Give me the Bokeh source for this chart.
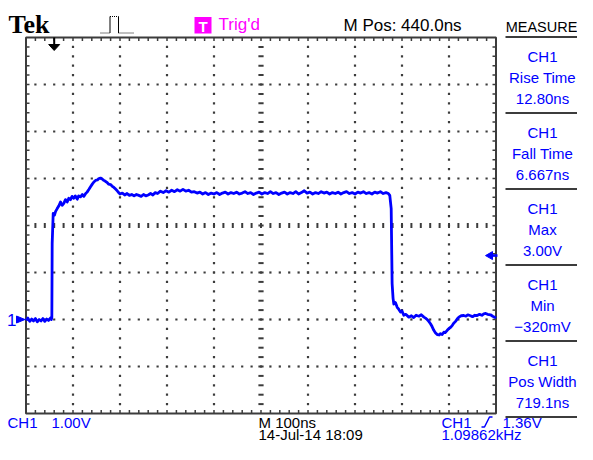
from bokeh.plotting import figure
from bokeh.models import Range1d
from bokeh.core.properties import value
from bokeh.embed import file_html
from bokeh.resources import INLINE

# ---------------- waveform (time in ns, CH1 in volts) ----------------
t_base = [-60, -56, -52, -48, -44, -40, -36, -32, -28, -24, -20, -16, -12, -8, -6]
v_base = [-0.02, 0.03, -0.04, 0.01, -0.03, 0.02, -0.05, 0.00, -0.03, 0.02, -0.04, 0.01, -0.02, 0.03, 0.00]

t_rise = [-5, -4.3, -2.1, 0.6, 3, 6.4, 10, 13.4, 17, 20.4, 24, 27.7, 31, 34.7, 38,
          41.7, 45, 49, 52, 56, 60, 63, 67, 70, 74, 77, 81, 84, 88, 92, 95, 98.5,
          102, 105.5, 109, 113, 116, 120, 123, 127, 130, 134, 137, 140]
v_rise = [0.05, 1.62, 2.26, 2.22, 2.30, 2.36, 2.42, 2.50, 2.43, 2.47, 2.55, 2.50, 2.58, 2.55, 2.62,
          2.58, 2.63, 2.56, 2.63, 2.61, 2.66, 2.62, 2.68, 2.71, 2.77, 2.82, 2.88, 2.92, 2.96, 2.97, 3.00, 3.01,
          2.99, 2.96, 2.94, 2.91, 2.88, 2.87, 2.84, 2.81, 2.78, 2.74, 2.70, 2.67]

t_top = [145, 150, 155, 160, 165, 170, 175, 180, 185, 190, 195, 200, 205, 210, 215, 220, 226, 232, 238, 244,
         250, 256, 262, 268, 274, 280, 286, 292, 298, 304, 310, 316, 322, 328, 334, 340, 346, 352, 358, 364,
         370, 376, 382, 388, 394, 400, 406, 412, 418, 424, 430, 436, 442, 448, 454, 460, 466, 472, 478, 484,
         490, 496, 502, 508, 514, 520, 526, 532, 538, 544, 550, 556, 562, 568, 574, 580, 586, 592, 598, 604,
         610, 616, 622, 628, 634, 640, 646, 652, 658, 664, 670, 676, 682, 688, 694, 700, 706, 711]
v_top = [2.69, 2.65, 2.68, 2.64, 2.66, 2.63, 2.66, 2.64, 2.62, 2.66, 2.63, 2.65, 2.68, 2.65, 2.70, 2.68, 2.73, 2.70, 2.74, 2.71,
         2.75, 2.72, 2.76, 2.73, 2.77, 2.73, 2.75, 2.71, 2.72, 2.69, 2.71, 2.67, 2.70, 2.66, 2.69, 2.67, 2.70, 2.66, 2.69, 2.71,
         2.67, 2.70, 2.68, 2.71, 2.67, 2.69, 2.72, 2.68, 2.70, 2.66, 2.69, 2.71, 2.67, 2.70, 2.68, 2.72, 2.68, 2.70, 2.66, 2.69,
         2.71, 2.67, 2.70, 2.68, 2.72, 2.67, 2.70, 2.74, 2.69, 2.71, 2.67, 2.70, 2.68, 2.72, 2.69, 2.71, 2.67, 2.70, 2.68, 2.71,
         2.67, 2.70, 2.72, 2.68, 2.70, 2.67, 2.71, 2.69, 2.72, 2.68, 2.70, 2.67, 2.71, 2.69, 2.72, 2.68, 2.70, 2.68]

t_fall = [714, 717, 719, 721, 722.6, 726, 729.8, 733, 736.8, 740, 743.8, 748, 754.5, 760, 765, 770, 776, 781, 786.6, 790,
          793.6, 797, 800.6, 804, 807.7, 811, 814.9, 819, 822, 825.5, 829, 832, 836.2, 840, 843, 846.8, 850, 854, 857.4, 861,
          866, 871.5, 876, 880, 885.7, 890, 895, 900, 905, 910, 914, 918, 922, 928.3, 933, 937, 940]
v_fall = [2.64, 2.36, 0.76, 0.45, 0.33, 0.36, 0.26, 0.22, 0.16, 0.18, 0.09, 0.11, 0.05, 0.08, 0.04, 0.09, 0.07, 0.10, 0.05, 0.03,
          0.00, -0.04, -0.09, -0.15, -0.23, -0.28, -0.32, -0.33, -0.30, -0.32, -0.27, -0.28, -0.23, -0.19, -0.17, -0.13, -0.08, -0.04, 0.01, 0.05,
          0.08, 0.085, 0.07, 0.10, 0.08, 0.06, 0.09, 0.085, 0.11, 0.09, 0.12, 0.13, 0.11, 0.10, 0.07, 0.05, 0.03]

time_ns = t_base + t_rise + t_top + t_fall
volts = v_base + v_rise + v_top + v_fall

# ---------------- scope settings ----------------
T_LEFT, T_RIGHT = -60.0, 940.0      # M 100ns/div, M Pos 440.0ns
V_BOTTOM, V_TOP = -2.0, 6.0         # CH1 1.00V/div, ground 2 div below centre
T_DIV, V_DIV = 100.0, 1.0
TRIGGER_T = 0.0
TRIGGER_LEVEL = 1.36

measure_channel = ["CH1", "CH1", "CH1", "CH1", "CH1"]
measure_names = ["Rise Time", "Fall Time", "Max", "Min", "Pos Width"]
measure_values = ["12.80ns", "6.667ns", "3.00V", "\u2212320mV", "719.1ns"]

# ---------------- layout helpers (screen pixels) ----------------
PX_NS = 0.47      # pixels per ns
PX_V = 47.0       # pixels per volt
W, H = 577, 444
def rx(px):
    return T_LEFT + (px - 25.5) / PX_NS
def ry(py):
    return (319.0 - py) / PX_V
def base(py, size):
    # baseline placement (compensates the renderer's text offset)
    return ry(py - 0.33 * size)

FONT = value("Liberation Sans")
FS, FS_PANEL, FS_FOOT = 17, 15, 15
BLUE = "#0000FF"
INK = "#000000"
MAGENTA = "#FF00FF"
GRAT = "#3c3c3c"

def px(s):
    return "%gpx" % s

p = figure(width=W, height=H, x_range=Range1d(rx(0), rx(W)), y_range=Range1d(ry(H), ry(0)),
           output_backend="svg", toolbar_location=None, tools="",
           x_axis_location=None, y_axis_location=None, min_border=0,
           outline_line_color=None, background_fill_color="white", border_fill_color="white")
p.xgrid.visible = False
p.ygrid.visible = False

# ---------------- graticule ----------------
sub_t = [T_LEFT + 20 * i for i in range(1, 50)]
sub_v = [round(V_BOTTOM + 0.2 * j, 3) for j in range(1, 40)]
grid_t = [T_LEFT + T_DIV * k for k in range(1, 10) if k != 5]
grid_v = [V_BOTTOM + V_DIV * k for k in range(1, 8) if k != 4]
c_t = T_LEFT + 5 * T_DIV
c_v = V_BOTTOM + 4 * V_DIV

dot_x = [t for t in grid_t for v in sub_v] + [t for v in grid_v for t in sub_t]
dot_y = [v for t in grid_t for v in sub_v] + [v for v in grid_v for t in sub_t]
p.scatter(dot_x, dot_y, marker="square", size=2.2, fill_color=GRAT, line_color=None)

dl = 2.6
p.segment(x0=sub_t, x1=sub_t, y0=[c_v - dl / PX_V] * len(sub_t), y1=[c_v + dl / PX_V] * len(sub_t),
          line_color=GRAT, line_width=2)
p.segment(x0=[c_t - dl / PX_NS] * len(sub_v), x1=[c_t + dl / PX_NS] * len(sub_v), y0=sub_v, y1=sub_v,
          line_color=GRAT, line_width=2)

tk = 3.5
p.segment(x0=sub_t, x1=sub_t, y0=[V_TOP] * len(sub_t), y1=[V_TOP - tk / PX_V] * len(sub_t), line_color=GRAT, line_width=1.5)
p.segment(x0=sub_t, x1=sub_t, y0=[V_BOTTOM] * len(sub_t), y1=[V_BOTTOM + tk / PX_V] * len(sub_t), line_color=GRAT, line_width=1.5)
p.segment(x0=[T_LEFT] * len(sub_v), x1=[T_LEFT + tk / PX_NS] * len(sub_v), y0=sub_v, y1=sub_v, line_color=GRAT, line_width=1.5)
p.segment(x0=[T_RIGHT] * len(sub_v), x1=[T_RIGHT - tk / PX_NS] * len(sub_v), y0=sub_v, y1=sub_v, line_color=GRAT, line_width=1.5)
p.quad(left=[T_LEFT], right=[T_RIGHT], bottom=[V_BOTTOM], top=[V_TOP], fill_color=None, line_color=GRAT, line_width=2)

# ---------------- waveform ----------------
p.line(time_ns, volts, line_color=BLUE, line_width=2.8, line_join="round")

# trigger position marker (top)
p.segment(x0=[TRIGGER_T], x1=[TRIGGER_T], y0=[V_TOP], y1=[V_TOP - 7 / PX_V], line_color=INK, line_width=2)
p.patch([TRIGGER_T - 5.5 / PX_NS, TRIGGER_T + 5.5 / PX_NS, TRIGGER_T],
        [V_TOP - 7 / PX_V, V_TOP - 7 / PX_V, V_TOP - 13 / PX_V], fill_color=INK, line_color=INK, line_width=1)

# trigger level marker (right)
p.patch([T_RIGHT - 10.5 / PX_NS, T_RIGHT - 3.5 / PX_NS, T_RIGHT - 3.5 / PX_NS],
        [TRIGGER_LEVEL, TRIGGER_LEVEL + 4 / PX_V, TRIGGER_LEVEL - 4 / PX_V], fill_color=BLUE, line_color=BLUE, line_width=1)
p.segment(x0=[T_RIGHT - 4 / PX_NS], x1=[T_RIGHT + 1.5 / PX_NS], y0=[TRIGGER_LEVEL], y1=[TRIGGER_LEVEL],
          line_color=BLUE, line_width=2.5)

# ground marker (left)
p.text(x=[rx(6.5)], y=[base(325.5, FS)], text=["1"], text_font=FONT, text_font_size=px(FS), text_color=BLUE,
       text_baseline="alphabetic", text_align="left")
p.patch([rx(16), rx(24.5), rx(16)], [3.5 / PX_V, 0, -3.5 / PX_V], fill_color=BLUE, line_color=BLUE, line_width=1)

# ---------------- header ----------------
p.text(x=[rx(8)], y=[base(33, 26)], text=["Tek"], text_font=value("Liberation Serif"), text_font_style="bold",
       text_font_size=px(26), text_color=INK, text_baseline="alphabetic", text_align="left")
p.multi_line([[rx(100), rx(109.5)], [rx(109.5), rx(118)], [rx(118), rx(133)]],
             [[ry(32.5), ry(32.5)], [ry(16), ry(16)], [ry(32.5), ry(32.5)]],
             line_color=INK, line_width=1, line_dash="1 1")
p.multi_line([[rx(109.5), rx(109.5)], [rx(118), rx(118)]], [[ry(32.5), ry(16)], [ry(16), ry(32.5)]],
             line_color=INK, line_width=1)
p.quad(left=[rx(194)], right=[rx(211)], top=[ry(16.5)], bottom=[ry(33)], fill_color=MAGENTA, line_color=None)
p.text(x=[rx(202.5)], y=[base(30.5, 15)], text=["T"], text_font=FONT, text_font_style="bold",
       text_font_size=px(15), text_color="white", text_baseline="alphabetic", text_align="center")
p.text(x=[rx(218)], y=[base(30, FS)], text=["Trig'd"], text_font=FONT, text_font_size=px(FS), text_color=MAGENTA,
       text_baseline="alphabetic", text_align="left")
p.text(x=[rx(343)], y=[base(31, FS)], text=["M Pos: 440.0ns"], text_font=FONT, text_font_size=px(FS), text_color=INK,
       text_baseline="alphabetic", text_align="left")
p.text(x=[rx(541)], y=[base(31, 14.5)], text=["MEASURE"], text_font=FONT, text_font_size=px(14.5), text_color=INK,
       text_baseline="alphabetic", text_align="center")

# ---------------- measurement panel ----------------
panel_top = [36.5 + 76 * k for k in range(5)]
sep_y = [ry(y) for y in panel_top + [416.5]]
p.segment(x0=[rx(505)] * len(sep_y), x1=[rx(W)] * len(sep_y), y0=sep_y, y1=sep_y, line_color=GRAT, line_width=2)
row_x = [rx(542)] * len(measure_names)
p.text(x=row_x, y=[base(y + 24, FS_PANEL) for y in panel_top], text=measure_channel, text_font=FONT,
       text_font_size=px(FS_PANEL), text_color=BLUE, text_baseline="alphabetic", text_align="center")
p.text(x=row_x, y=[base(y + 45.5, FS_PANEL) for y in panel_top], text=measure_names, text_font=FONT,
       text_font_size=px(FS_PANEL), text_color=BLUE, text_baseline="alphabetic", text_align="center")
p.text(x=row_x, y=[base(y + 66, FS_PANEL) for y in panel_top], text=measure_values, text_font=FONT,
       text_font_size=px(FS_PANEL), text_color=BLUE, text_baseline="alphabetic", text_align="center")

# ---------------- footer ----------------
ROW1, ROW2 = 426.5, 438.5
p.text(x=[rx(7), rx(51), rx(441), rx(502), rx(441)], y=[base(ROW1, FS_FOOT)] * 4 + [base(ROW2, FS_FOOT)],
       text=["CH1", "1.00V", "CH1", "1.36V", "1.09862kHz"], text_font=FONT, text_font_size=px(FS_FOOT),
       text_color=BLUE, text_baseline="alphabetic", text_align="left")
p.text(x=[rx(258), rx(258)], y=[base(ROW1, FS_FOOT), base(ROW2, FS_FOOT)], text=["M 100ns", "14-Jul-14 18:09"],
       text_font=FONT, text_font_size=px(FS_FOOT), text_color=INK, text_baseline="alphabetic", text_align="left")
p.line([rx(481), rx(484), rx(489), rx(492)], [ry(ROW1), ry(ROW1), ry(ROW1 - 10), ry(ROW1 - 10)],
       line_color=BLUE, line_width=1.5)

open("out.html", "w").write(file_html(p, INLINE))
